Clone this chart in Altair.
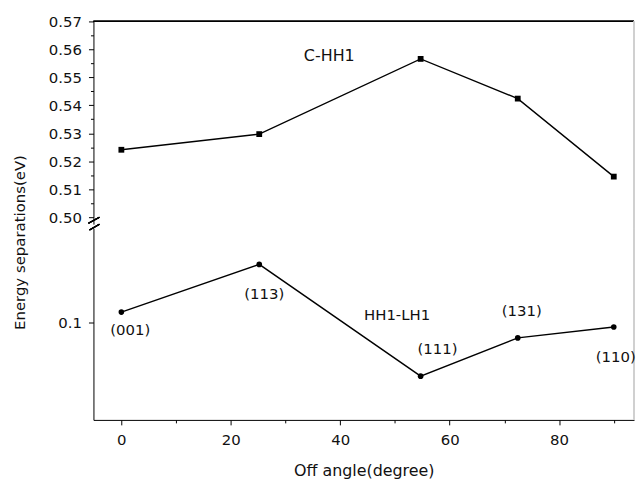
import altair as alt
import pandas as pd

# ---- data ----
angles = [0, 25.2, 54.7, 72.45, 90]
c_hh1 = [0.5241, 0.5297, 0.5566, 0.5424, 0.5145]
hh1_lh1 = [0.1021, 0.1117, 0.0892, 0.0969, 0.0991]
planes = ["(001)", "(113)", "(111)", "(131)", "(110)"]

top_ticks = [0.50, 0.51, 0.52, 0.53, 0.54, 0.55, 0.56, 0.57]
top_minor = [0.505, 0.515, 0.525, 0.535, 0.545, 0.555, 0.565]
bottom_ticks = [0.1]
x_ticks = [0, 20, 40, 60, 80]
x_minor = [10, 30, 50, 70, 90]

series_names = ["C-HH1", "HH1-LH1"]
series_label_x = [38.0, 50.4]
series_label_y = [0.5575, 0.1016]

df_top = pd.DataFrame({"angle": angles, "E": c_hh1})
df_bot = pd.DataFrame({"angle": angles, "E": hh1_lh1, "plane": planes})

W = 544
H_TOP = 204
H_BOT = 193
FONT = "DejaVu Sans"

x_scale = alt.Scale(domain=[-5.1, 93.7], nice=False, zero=False)
top_scale = alt.Scale(domain=[0.4975, 0.57], nice=False, zero=False)
bot_scale = alt.Scale(domain=[0.0804, 0.119], nice=False, zero=False)

axis_style = dict(domainColor="black", tickColor="black", labelColor="#111",
                  labelFont=FONT, labelFontSize=15, titleFont=FONT, titleFontSize=15,
                  titleFontWeight="normal", titleColor="#111", grid=False)

# ---------------- top panel ----------------
tx = alt.X("angle:Q", scale=x_scale, axis=None)
top_line = alt.Chart(df_top).mark_line(color="black", strokeWidth=1.4).encode(
    x=tx,
    y=alt.Y("E:Q", scale=top_scale,
            axis=alt.Axis(orient="left", values=top_ticks, format=".2f", tickSize=5,
                          labelPadding=7, title="Energy separations(eV)",
                          titleX=-74, titleY=222, titleAngle=270, titleBaseline="middle",
                          titleAlign="center", **axis_style)),
)
top_minor_axis = alt.Chart(df_top).mark_point(opacity=0).encode(
    x=tx,
    y=alt.Y("E:Q", scale=top_scale,
            axis=alt.Axis(orient="left", values=top_minor, tickSize=3, labels=False,
                          title=None, domain=False, tickColor="black", grid=False)),
)
top_pts = alt.Chart(df_top).mark_square(color="black", size=34, opacity=1).encode(
    x=tx, y=alt.Y("E:Q", scale=top_scale, axis=None)
)
top_label = alt.Chart(pd.DataFrame({"x": [series_label_x[0]], "y": [series_label_y[0]],
                                    "t": [series_names[0]]})).mark_text(
    font=FONT, fontSize=16, color="#111").encode(
    x=alt.X("x:Q", scale=x_scale, axis=None),
    y=alt.Y("y:Q", scale=top_scale, axis=None), text="t:N")

top_border = alt.Chart(df_top).mark_rule(color="black", strokeWidth=1.2).encode(
    x=alt.value(0), x2=alt.value(W), y=alt.value(0))
top_right = alt.Chart(df_top).mark_rule(color="#cfcfcf", strokeWidth=1).encode(
    x=alt.value(W), y=alt.value(0), y2=alt.value(H_TOP + 4))
brk1 = alt.Chart(df_top).mark_rule(color="black", strokeWidth=1.2).encode(
    x=alt.value(-5), x2=alt.value(6), y=alt.value(H_TOP - 1), y2=alt.value(H_TOP - 7))
brk2 = alt.Chart(df_top).mark_rule(color="black", strokeWidth=1.2).encode(
    x=alt.value(-4), x2=alt.value(6), y=alt.value(H_TOP + 6), y2=alt.value(H_TOP))

top = alt.layer(top_line, top_minor_axis, top_pts, top_label, top_border, top_right,
                brk1, brk2).resolve_axis(y="independent").properties(width=W, height=H_TOP)

# ---------------- bottom panel ----------------
bx_major = alt.X("angle:Q", scale=x_scale,
                 axis=alt.Axis(orient="bottom", values=x_ticks, format="d", tickSize=5,
                               labelPadding=8, title="Off angle(degree)",
                               titleY=51, titleBaseline="middle", titleAlign="center",
                               **{**axis_style, "titleFontSize": 16}))
bx_minor = alt.X("angle:Q", scale=x_scale,
                 axis=alt.Axis(orient="bottom", values=x_minor, tickSize=3, labels=False,
                               title=None, domain=False, tickColor="black", grid=False))
bx = alt.X("angle:Q", scale=x_scale, axis=None)

bot_line = alt.Chart(df_bot).mark_line(color="black", strokeWidth=1.4).encode(
    x=bx_major, y=alt.Y("E:Q", scale=bot_scale, axis=None))
bot_yaxis = alt.Chart(df_bot).mark_point(opacity=0).encode(
    x=bx,
    y=alt.Y("E:Q", scale=bot_scale,
            axis=alt.Axis(orient="left", values=bottom_ticks, format=".1f", tickSize=5,
                          labelPadding=7, title=None, **axis_style)),
)
bot_minor_axis = alt.Chart(df_bot).mark_point(opacity=0).encode(
    x=bx_minor, y=alt.Y("E:Q", scale=bot_scale, axis=None))
bot_pts = alt.Chart(df_bot).mark_circle(color="black", size=32, opacity=1).encode(
    x=bx, y=alt.Y("E:Q", scale=bot_scale, axis=None))

offsets = {"(001)": (9, 18), "(113)": (5, 30), "(111)": (17, -27),
           "(131)": (4, -27), "(110)": (2, 30)}
plane_layers = []
for p, (dx, dy) in offsets.items():
    plane_layers.append(
        alt.Chart(df_bot).transform_filter(alt.datum.plane == p).mark_text(
            font=FONT, fontSize=15, color="#111", dx=dx, dy=dy).encode(
            x=bx, y=alt.Y("E:Q", scale=bot_scale, axis=None), text="plane:N"))

bot_label = alt.Chart(pd.DataFrame({"x": [series_label_x[1]], "y": [series_label_y[1]],
                                    "t": [series_names[1]]})).mark_text(
    font=FONT, fontSize=15, color="#111").encode(
    x=alt.X("x:Q", scale=x_scale, axis=None),
    y=alt.Y("y:Q", scale=bot_scale, axis=None), text="t:N")
bot_right = alt.Chart(df_bot).mark_rule(color="#cfcfcf", strokeWidth=1).encode(
    x=alt.value(W), y=alt.value(0), y2=alt.value(H_BOT))

bottom = alt.layer(bot_line, bot_yaxis, bot_minor_axis, bot_pts, bot_label, bot_right,
                   *plane_layers).resolve_axis(x="independent", y="independent").properties(
    width=W, height=H_BOT)

chart = alt.vconcat(top, bottom, spacing=4, bounds="flush").properties(
    padding={"left": 5, "top": 5, "right": 0, "bottom": 5},
    background="white",
).configure_view(stroke=None)

chart.save("out.html", embed_options={"renderer": "svg", "actions": False})
